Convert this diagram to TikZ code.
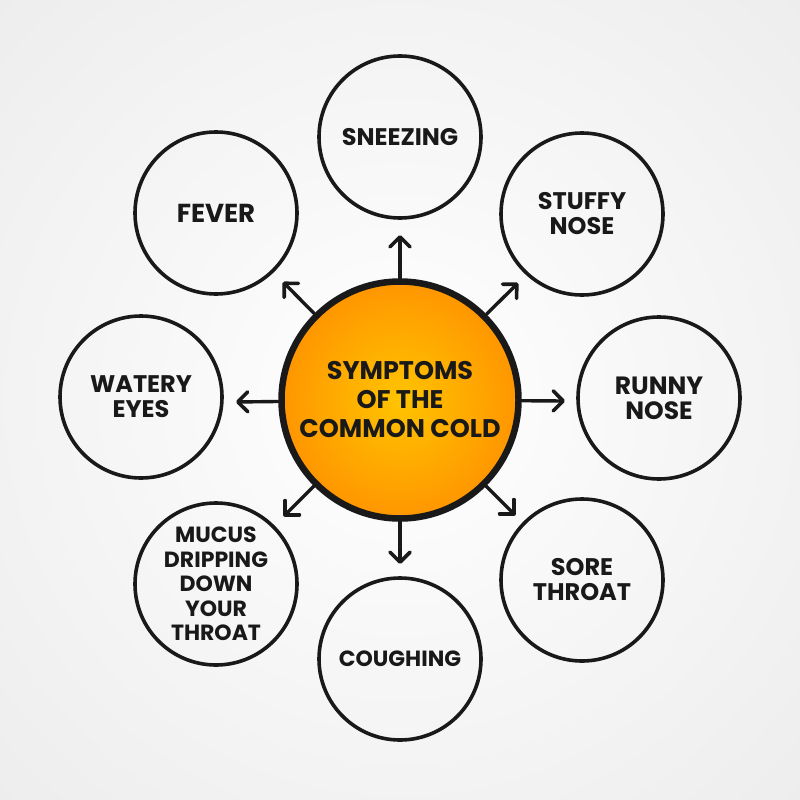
\documentclass[tikz,border=0pt]{standalone}
\usepackage{fontspec}
\setmainfont{Poppins}
\usetikzlibrary{arrows.meta}
\tikzset{
  bgshade/.style={inner color=white,outer color=black!7,draw=none},
  leaf/.style={circle,draw=black!90,line width=3.6pt,minimum size=162pt,inner sep=0pt,align=center,
    font=\fontsize{24}{25}\selectfont\bfseries,text=black!90},
  hub/.style={circle,draw=black!90,line width=6.5pt,minimum size=237pt,inner sep=0pt,align=center,
    inner color={rgb,255:red,255;green,196;blue,0},outer color={rgb,255:red,255;green,150;blue,0},
    font=\fontsize{25.5}{29}\selectfont\bfseries,text=black!90},
  link/.style={line width=3.4pt,draw=black!90,line cap=round,-{Straight Barb[length=10pt,width=20pt,line width=3.6pt,round]}}
}
\begin{document}
\begin{tikzpicture}[x=1pt,y=-1pt]
\useasboundingbox (0,0) rectangle (800,800);
\shade[bgshade] (-165,-165) rectangle (965,965);
\node[hub] (c) at (400,400) {SYMPTOMS\\OF THE\\COMMON COLD};
\node[leaf] (n1) at (400,137) {SNEEZING};
\node[leaf] (n2) at (582,214) {STUFFY\\NOSE};
\node[leaf,font=\fontsize{25}{25}\selectfont\bfseries] (n3) at (659,398) {RUNNY\\NOSE};
\node[leaf] (n4) at (582,580) {SORE\\THROAT};
\node[leaf,font=\fontsize{22}{25}\selectfont\bfseries] (n5) at (400,659) {COUGHING};
\node[leaf,font=\fontsize{22}{24.5}\selectfont\bfseries] (n6) at (216,584) {MUCUS\\DRIPPING\\DOWN\\YOUR\\THROAT};
\node[leaf] (n7) at (141,397) {WATERY\\EYES};
\node[leaf,font=\fontsize{26}{25}\selectfont\bfseries] (n8) at (216,213) {FEVER};
\coordinate (e1) at (400,235);
\coordinate (e2) at (518,283);
\coordinate (e3) at (565,401);
\coordinate (e4) at (515,515);
\coordinate (e5) at (400,564);
\coordinate (e6) at (284,516);
\coordinate (e7) at (236,402);
\coordinate (e8) at (283,282);
\foreach \i in {1,...,8} \draw[link] (c) -- (e\i);
\end{tikzpicture}
\end{document}
